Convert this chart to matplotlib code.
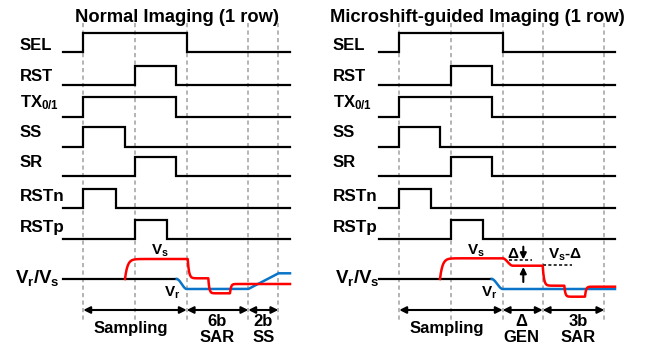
import numpy as np
import matplotlib
matplotlib.use('Agg')
import matplotlib.pyplot as plt

plt.rcParams['font.family'] = ['Liberation Sans', 'DejaVu Sans']
plt.rcParams['font.weight'] = 'bold'
plt.rcParams['mathtext.fontset'] = 'custom'
plt.rcParams['mathtext.rm'] = 'Liberation Sans:bold'
plt.rcParams['mathtext.it'] = 'Liberation Sans:bold'
plt.rcParams['mathtext.bf'] = 'Liberation Sans:bold'

# ---------------- data ----------------
titles = ['Normal Imaging (1 row)', 'Microshift-guided Imaging (1 row)']
title_x = [176.7, 477.5]

signal_labels = ['SEL', 'RST', '$TX_{0/1}$', 'SS', 'SR', 'RSTn', 'RSTp']
label_sizes = [12, 12, 12, 12, 12, 12.3, 12.3]
label_base = [49.5, 81, 106.8, 137.3, 167.3, 200.7, 231.7]
row_low = [52, 85, 116.5, 146.5, 176, 208, 239]
pulse_h = 19.5

# panel 0 : normal imaging, panel 1 : microshift-guided imaging
span = [[63.3, 290], [379.3, 615]]
label_x = [20, 333]
rise = [[83.3, 135, 83.3, 83.3, 135, 83.3, 135],
        [399.3, 450.5, 399.3, 399.3, 450.5, 399.3, 450.5]]
fall = [[186.7, 176, 176, 125, 176, 115.7, 166.7],
        [502.7, 492.3, 492.3, 440, 492.3, 431, 483.3]]
phase = [[83.3, 135, 186.7, 248.3, 278.3],
         [399.3, 450.5, 502.7, 542.7, 604.3]]

v_base = 279
vlabel_x = [15, 335]
# black common line end (where Vr starts moving)
v_black_end = [176.7, 491.7]

# Vs (red) waveform events: time, level, kind, duration
vs_t = [[125, 187.7, 208.3, 230], [440, 502.7, 542.7, 564.3, 585]]
vs_lv = [[259, 278.3, 293.3, 284], [258.3, 265.7, 285.7, 296.7, 286.7]]
vs_kind = [['exp', 'exp', 'exp', 'exp'], ['exp', 'smooth', 'exp', 'exp', 'exp']]
vs_dur = [[2.5, 1.3, 1.0, 1.0], [2.5, 10, 1.3, 1.0, 1.0]]

# Vr (blue) waveform events
vr_t = [[176.7, 248.3], [491.7]]
vr_lv = [[289, 273.3], [289]]
vr_kind = [['smooth', 'linear'], ['smooth']]
vr_dur = [[10, 30], [11]]

# phase arrows (indices into phase) and their labels
arrow_idx = [[(0, 2), (2, 3), (3, 4)], [(0, 2), (2, 3), (3, 4)]]
arrow_labels = [[['Sampling'], ['6b', 'SAR'], ['2b', 'SS']],
                [['Sampling'], ['Δ', 'GEN'], ['3b', 'SAR']]]
arrow_label_x = [[130.5, 216.7, 263.3], [446.7, 521.7, 578.3]]

vs_text_xy = [(160, 255), (476, 255)]
vr_text_xy = [(172, 297), (489, 297)]

RED = '#ff0000'
BLUE = '#0a74c9'
GRAY = '#a8a8a8'


def waveform(t0, t1, y0, times, levels, kinds, durs, n=3000):
    t = np.linspace(t0, t1, n)
    y = np.full_like(t, float(y0))
    cur = y0
    for te, lv, k, d in zip(times, levels, kinds, durs):
        m = t >= te
        s = t[m] - te
        if k == 'exp':
            f = 1 - np.exp(-s / d)
        elif k == 'smooth':
            u = np.clip(s / d, 0, 1)
            f = u * u * (3 - 2 * u)
        else:
            f = np.clip(s / d, 0, 1)
        y[m] = cur + (lv - cur) * f
        cur = lv
    return t, y


W, H = 650, 347
fig = plt.figure(figsize=(6.5, 3.47), dpi=100)
ax = fig.add_axes([0, 0, 1, 1])
ax.set_xlim(0, W)
ax.set_ylim(H, 0)
ax.axis('off')

for p in range(2):
    ax.text(title_x[p], 21.7, titles[p], fontsize=13.2, ha='center', va='baseline')
    # dashed phase lines
    for x in phase[p]:
        ax.plot([x, x], [23, 321], color=GRAY, lw=1.2, ls=(0, (2.5, 2)), zorder=1)
    # digital signals
    for i in range(len(signal_labels)):
        lo = row_low[i]
        hi = lo - pulse_h
        r, f = rise[p][i], fall[p][i]
        ax.plot([span[p][0], r, r, f, f, span[p][1]], [lo, lo, hi, hi, lo, lo],
                color='black', lw=1.6, zorder=3, solid_joinstyle='miter')
        ax.text(label_x[p], label_base[i], signal_labels[i], fontsize=label_sizes[i],
                ha='left', va='baseline')
    # analog
    ax.text(vlabel_x[p], 283.3, '$V_r/V_s$', fontsize=13.5, ha='left', va='baseline')
    ax.plot([span[p][0], v_black_end[p]], [v_base, v_base], color='black', lw=1.6, zorder=3)
    t, y = waveform(vr_t[p][0], span[p][1], v_base, vr_t[p], vr_lv[p], vr_kind[p], vr_dur[p])
    ax.plot(t, y, color=BLUE, lw=1.8, zorder=4)
    t, y = waveform(vs_t[p][0], span[p][1], v_base, vs_t[p], vs_lv[p], vs_kind[p], vs_dur[p])
    ax.plot(t, y, color=RED, lw=1.8, zorder=5)
    ax.text(*vs_text_xy[p], '$V_s$', fontsize=11, ha='center', va='baseline')
    ax.text(*vr_text_xy[p], '$V_r$', fontsize=11, ha='center', va='baseline')
    # phase arrows
    for (a, b), labs, lx in zip(arrow_idx[p], arrow_labels[p], arrow_label_x[p]):
        ax.annotate('', xy=(phase[p][b], 310), xytext=(phase[p][a], 310),
                    arrowprops=dict(arrowstyle='<|-|>', color='black', lw=1.5,
                                    mutation_scale=10, shrinkA=0, shrinkB=0), zorder=5)
        if len(labs) == 1:
            ax.text(lx, 333.3, labs[0], fontsize=12, ha='center', va='baseline')
        else:
            ax.text(lx, 325.5, labs[0], fontsize=12, ha='center', va='baseline')
            ax.text(lx, 341.7, labs[1], fontsize=12, ha='center', va='baseline')

# delta annotation (microshift panel)
ax.text(512.5, 258.5, 'Δ', fontsize=11, ha='center', va='baseline')
ax.plot([509, 532], [259.5, 259.5], color='black', lw=1.1, ls=(0, (2, 1.5)), zorder=2)
ax.annotate('', xy=(523.3, 259.5), xytext=(523.3, 246.7),
            arrowprops=dict(arrowstyle='-|>', color='black', lw=1.5, mutation_scale=9,
                            shrinkA=0, shrinkB=0))
ax.annotate('', xy=(523.3, 267), xytext=(523.3, 282),
            arrowprops=dict(arrowstyle='-|>', color='black', lw=1.5, mutation_scale=9,
                            shrinkA=0, shrinkB=0))
ax.text(548.3, 259, '$V_s$-Δ', fontsize=11, ha='left', va='baseline')
ax.plot([543.3, 572], [265.2, 265.2], color='black', lw=1.1, ls=(0, (2, 1.5)), zorder=2)

fig.savefig('out.png', dpi=100)
